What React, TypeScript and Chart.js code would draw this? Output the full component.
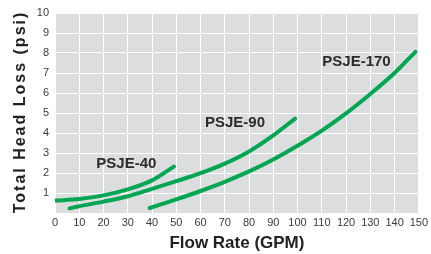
import React, { useEffect, useRef } from "react";
import { Chart, registerables } from "chart.js";

Chart.register(...registerables);

const xTicks = [0, 10, 20, 30, 40, 50, 60, 70, 80, 90, 100, 110, 120, 130, 140, 150];
const yTicks = [1, 2, 3, 4, 5, 6, 7, 8, 9, 10];

const psje40X = [0, 10, 20, 30, 40, 49];
const psje40Y = [0.62, 0.7, 0.88, 1.18, 1.63, 2.32];

const psje90X = [6, 10, 20, 30, 40, 50, 60, 70, 80, 90, 99];
const psje90Y = [0.23, 0.34, 0.57, 0.84, 1.21, 1.59, 1.99, 2.47, 3.08, 3.88, 4.72];

const psje170X = [39, 50, 60, 70, 80, 90, 100, 110, 120, 130, 140, 148.6];
const psje170Y = [0.25, 0.68, 1.1, 1.56, 2.08, 2.68, 3.36, 4.12, 4.98, 5.95, 7.0, 8.06];

const seriesNames = ["PSJE-40", "PSJE-90", "PSJE-170"];
const labelX = [29.4, 74.2, 124.3];
const labelY = [2.45, 4.5, 7.55];

const xTitle = "Flow Rate (GPM)";
const yTitle = "Total Head Loss (psi)";

const GREEN = "#00a651";
const FONT = "'Liberation Sans', Arial, Helvetica, sans-serif";

function toPoints(xs: number[], ys: number[]) {
  return xs.map((x, i) => ({ x, y: ys[i] }));
}

export default function App() {
  const ref = useRef<HTMLCanvasElement | null>(null);

  useEffect(() => {
    const canvas = ref.current;
    if (!canvas) return;

    const bgPlugin = {
      id: "plotBg",
      beforeDraw(chart: any) {
        const { ctx, chartArea } = chart;
        ctx.save();
        ctx.fillStyle = "#dcdddf";
        ctx.fillRect(chartArea.left, chartArea.top, chartArea.right - chartArea.left, chartArea.bottom - chartArea.top);
        ctx.restore();
      },
    };

    const labelPlugin = {
      id: "seriesLabels",
      afterDatasetsDraw(chart: any) {
        const { ctx, scales, chartArea } = chart;
        ctx.save();
        ctx.font = `bold 15px ${FONT}`;
        ctx.fillStyle = "#2b2b2b";
        ctx.textAlign = "center";
        ctx.textBaseline = "middle";
        seriesNames.forEach((name, i) => {
          ctx.fillText(name, scales.x.getPixelForValue(labelX[i]), scales.y.getPixelForValue(labelY[i]));
        });
        ctx.restore();

        ctx.save();
        ctx.translate(21, (chartArea.top + chartArea.bottom) / 2);
        ctx.rotate(-Math.PI / 2);
        ctx.font = `bold 16px ${FONT}`;
        (ctx as any).letterSpacing = "2px";
        ctx.fillStyle = "#222222";
        ctx.textAlign = "center";
        ctx.textBaseline = "middle";
        ctx.fillText(yTitle, 1, 0);
        ctx.restore();
      },
    };

    const mk = (label: string, xs: number[], ys: number[]) => ({
      label,
      data: toPoints(xs, ys),
      borderColor: GREEN,
      backgroundColor: GREEN,
      borderWidth: 4,
      pointRadius: 0,
      fill: false,
      cubicInterpolationMode: "monotone" as const,
      borderCapStyle: "round" as const,
      borderJoinStyle: "round" as const,
    });

    const chart = new Chart(canvas, {
      type: "line",
      data: {
        datasets: [
          mk(seriesNames[0], psje40X, psje40Y),
          mk(seriesNames[1], psje90X, psje90Y),
          mk(seriesNames[2], psje170X, psje170Y),
        ],
      },
      options: {
        animation: false,
        responsive: false,
        devicePixelRatio: 1,
        layout: { padding: { top: 13, right: 12, left: 0, bottom: 0 } },
        plugins: {
          legend: { display: false },
          tooltip: { enabled: false },
        },
        scales: {
          x: {
            type: "linear",
            min: 0,
            max: 150,
            afterFit(scale: any) {
              scale.height = 41;
            },
            afterBuildTicks(scale: any) {
              scale.ticks = xTicks.map((v) => ({ value: v }));
            },
            grid: { color: "#ffffff", lineWidth: 1, drawTicks: false },
            border: { display: false },
            ticks: {
              padding: 3,
              color: "#3a3a3a",
              font: { family: FONT, size: 11 },
              maxRotation: 0,
              autoSkip: false,
            },
            title: {
              display: true,
              text: xTitle,
              color: "#222222",
              font: { family: FONT, size: 17, weight: "bold" },
              padding: { top: 0, bottom: 0 },
            },
          },
          y: {
            type: "linear",
            min: 0,
            max: 10,
            afterFit(scale: any) {
              scale.width = 55;
            },
            afterBuildTicks(scale: any) {
              scale.ticks = [0, ...yTicks].map((v) => ({ value: v }));
            },
            grid: { color: "#ffffff", lineWidth: 1, drawTicks: false },
            border: { display: false },
            ticks: {
              padding: 6,
              color: "#3a3a3a",
              font: { family: FONT, size: 11 },
              autoSkip: false,
              callback: (v: any) => (yTicks.includes(Number(v)) ? String(v) : ""),
            },
            title: { display: false },
          },
        },
      },
      plugins: [bgPlugin, labelPlugin],
    });

    return () => chart.destroy();
  }, []);

  return (
    <div style={{ position: "fixed", left: 0, top: 0, width: 431, height: 254, background: "#ffffff" }}>
      <canvas ref={ref} width={431} height={254} style={{ display: "block", width: 431, height: 254 }} />
    </div>
  );
}
